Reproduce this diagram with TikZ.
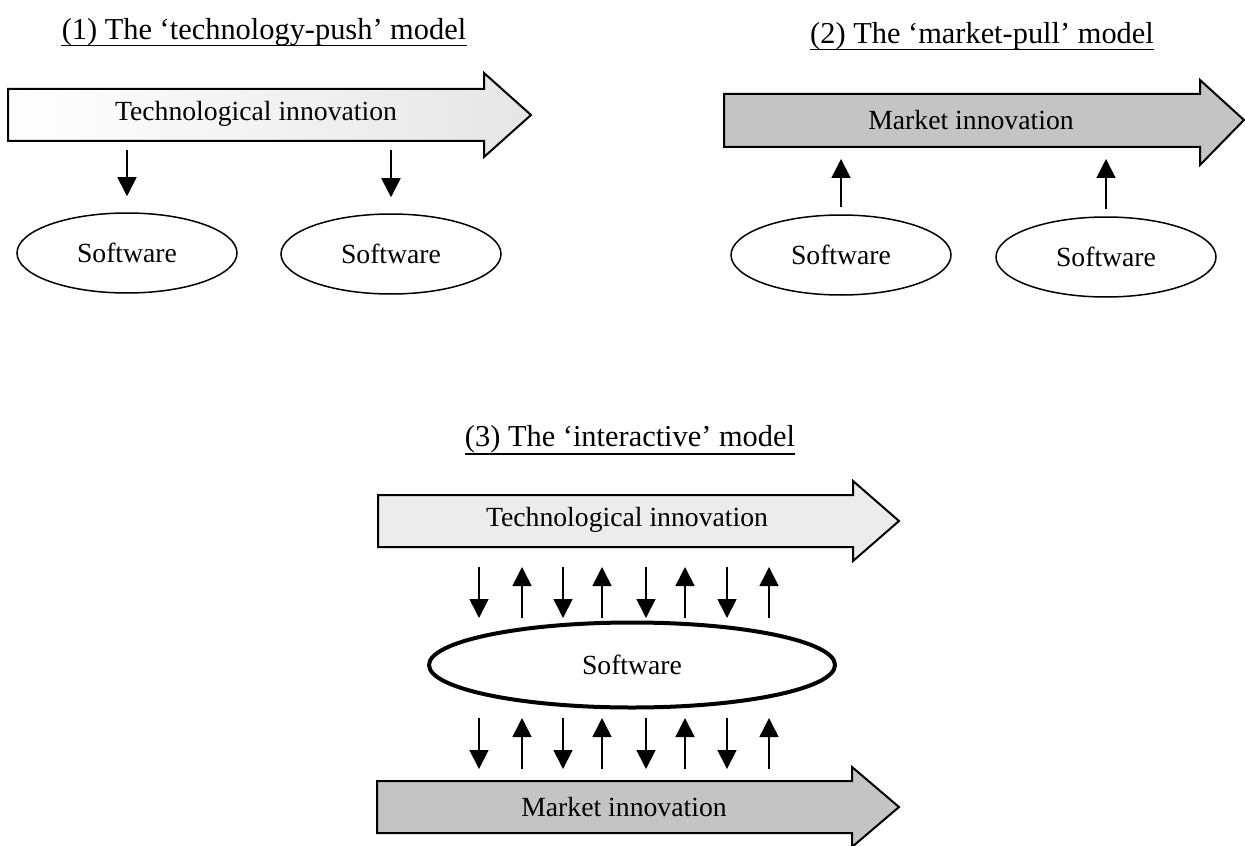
\documentclass[tikz,border=0pt]{standalone}
\usepackage{fontspec}
\setmainfont{Liberation Serif}
\usepackage{tikz}
\usetikzlibrary{arrows.meta,shapes.geometric}
\definecolor{techfill}{RGB}{236,236,236}
\definecolor{marketfill}{RGB}{196,196,196}
\tikzset{
  title/.style={font=\fontsize{15.2}{18}\selectfont, inner sep=0pt, anchor=base},
  lbl/.style={font=\fontsize{13.85}{16}\selectfont, inner sep=0pt},
  soft/.style={ellipse, draw, line width=0.75pt, minimum width=110pt,
    minimum height=40pt, inner sep=0pt, font=\fontsize{13.85}{16}\selectfont},
  bigsoft/.style={soft, line width=2pt, minimum width=203pt, minimum height=42.5pt},
  band/.style={draw, line width=1pt, line join=miter},
  uline/.style={line width=0.9pt},
  sarr/.style={-{Triangle[length=9.5pt, width=9.5pt]}, line width=0.85pt},
}

\begin{document}
\begin{tikzpicture}[x=0.5pt, y=-0.5pt]
  \useasboundingbox (0,0) rectangle (1245,845);

  % (1) technology-push
  \node[title] (t1) at (264,40) {(1) The ‘technology-push’ model};
  \draw[uline] ([yshift=-2.8pt]t1.base west) -- ([yshift=-2.8pt]t1.base east);
  \draw[band, left color=white, right color=black!10]
    (8,89) -- (484,89) -- (484,73) -- (531,115) -- (484,157) -- (484,141) -- (8,141) -- cycle;
  \node[lbl] (tech1) at (256,114) {Technological innovation};
  \node[soft] (soft1) at (127,253) {Software};
  \node[soft] (soft2) at (391,254) {Software};
  \coordinate (tech1b) at (0,150);
  \draw[sarr, shorten >=8pt] (soft1.north |- tech1b) -- (soft1.north);
  \draw[sarr, shorten >=8pt] (soft2.north |- tech1b) -- (soft2.north);

  % (2) market-pull
  \node[title] (t2) at (982,44) {(2) The ‘market-pull’ model};
  \draw[uline] ([yshift=-2.8pt]t2.base west) -- ([yshift=-2.8pt]t2.base east);
  \draw[band, fill=marketfill]
    (724,94) -- (1200,94) -- (1200,80) -- (1244,120) -- (1200,165) -- (1200,147) -- (724,147) -- cycle;
  \node[lbl] (mark2) at (971,120) {Market innovation};
  \node[soft] (soft3) at (841,255) {Software};
  \node[soft] (soft4) at (1106,257) {Software};
  \coordinate (mark2b) at (0,159);
  \draw[sarr, shorten <=3.5pt] (soft3.north) -- (soft3.north |- mark2b);
  \draw[sarr, shorten <=3.5pt] (soft4.north) -- (soft4.north |- mark2b);

  % (3) interactive
  \node[title] (t3) at (630,446) {(3) The ‘interactive’ model};
  \draw[uline] ([yshift=-4pt]t3.base west) -- ([yshift=-4pt]t3.base east);
  \draw[band, fill=techfill]
    (378,495) -- (853,495) -- (853,481) -- (899,521) -- (853,561) -- (853,547) -- (378,547) -- cycle;
  \node[lbl] (tech3) at (627,520) {Technological innovation};
  \node[bigsoft] (soft5) at (632,665) {Software};
  \draw[band, fill=marketfill]
    (377,781) -- (852,781) -- (852,767) -- (899,807) -- (852,847) -- (852,833) -- (377,833) -- cycle;
  \node[lbl] (mark3) at (624,807) {Market innovation};

  \coordinate (r1) at (0,567);
  \coordinate (r2) at (0,618);
  \coordinate (r3) at (0,718);
  \coordinate (r4) at (0,769);
  \foreach \x in {479,563,646,727} {
    \coordinate (dn) at (\x,0);
    \draw[sarr] (dn |- r1) -- (dn |- r2);
    \draw[sarr] (dn |- r3) -- (dn |- r4);
  }
  \foreach \x in {522,602,685,769} {
    \coordinate (up) at (\x,0);
    \draw[sarr] (up |- r2) -- (up |- r1);
    \draw[sarr] (up |- r4) -- (up |- r3);
  }
\end{tikzpicture}
\end{document}
